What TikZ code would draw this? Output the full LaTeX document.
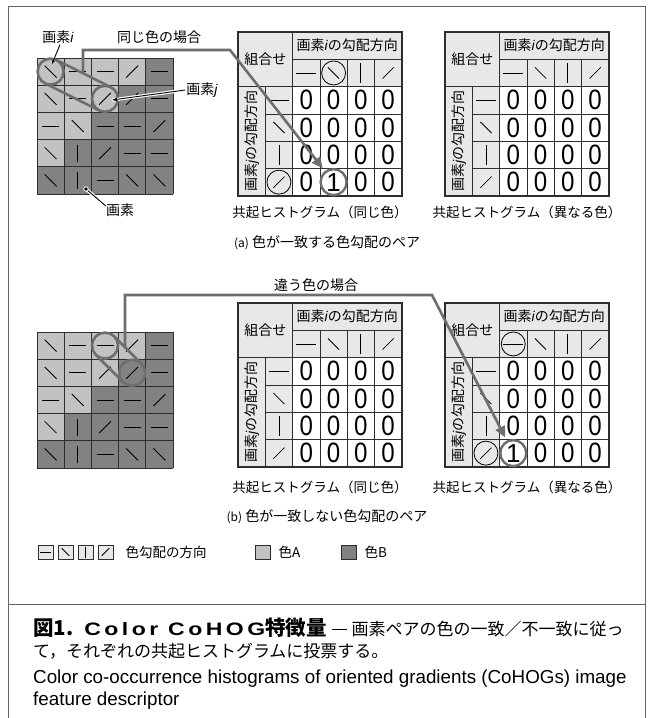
\documentclass[tikz,border=0pt]{standalone}
\usepackage{fontspec}
\setmainfont{Noto Sans CJK JP}
\newfontfamily\lat{Liberation Sans}
\newfontfamily\latw{Liberation Sans}[LetterSpace=15]
\usetikzlibrary{arrows.meta,calc}
\definecolor{colA}{HTML}{C2C2C2}
\definecolor{colB}{HTML}{828282}
\definecolor{hdr}{HTML}{E8E8E8}
\definecolor{ringc}{HTML}{6E6E6E}
\definecolor{gridc}{HTML}{2E2E2E}
\definecolor{framec}{HTML}{666666}
\newcommand\fs[1]{\fontsize{#1}{#1}\selectfont}
\newcommand\vi{{\lat\itshape i}}
\newcommand\vj{{\lat\itshape j}}
\newcommand\symH[3]{\draw[symline] ({#1-#3},{#2}) -- ({#1+#3},{#2});}
\newcommand\symV[3]{\draw[symline] ({#1},{#2-#3}) -- ({#1},{#2+#3});}
\newcommand\symD[3]{\draw[symline] ({#1-#3*0.7},{#2-#3*0.7}) -- ({#1+#3*0.7},{#2+#3*0.7});}
\newcommand\symS[3]{\draw[symline] ({#1-#3*0.7},{#2+#3*0.7}) -- ({#1+#3*0.7},{#2-#3*0.7});}
\tikzset{
 symline/.style={line width=0.85pt, black},
 tline/.style={line width=0.8pt, gridc},
 tframe/.style={line width=1.4pt, gridc},
 ringline/.style={ringc, line width=2.6pt},
 conn/.style={ringc, line width=2.6pt, -{Triangle[length=11pt,width=10pt]}, shorten >=3.5pt},
 zero/.style={font=\lat\fs{28}, inner sep=0pt},
 onec/.style={circle, draw=ringc, line width=2.4pt, fill=white, minimum size=26pt, inner sep=0pt, font=\lat\fs{26}},
 hcirc/.style={black, line width=0.8pt},
 lbl/.style={font=\fs{14}, inner sep=1pt},
 lead/.style={black, line width=0.9pt},
 halo/.style={white, line width=3.2pt},
 legbox/.style={draw=gridc, line width=0.8pt},
}
% 5x5 pixel grid
\newcommand\drawgrid[2]{%
 \foreach \row [count=\rr] in {{A/D,A/H,A/H,A/S,B/H},{A/D,A/H,A/S,B/S,B/H},{A/H,A/D,B/H,B/H,B/S},{A/D,B/V,B/S,B/H,B/H},{B/D,B/V,B/H,B/D,B/D}}{
  \foreach \cl/\sy [count=\cc] in \row {
   \fill[fill=col\cl] ({#1+(\cc-1)*27.2},{#2+(\rr-1)*27.2}) rectangle ++(27.2,27.2);
   \csname sym\sy\endcsname{#1+(\cc-0.5)*27.2}{#2+(\rr-0.5)*27.2}{8.5}
  }
 }
 \foreach \k in {0,...,5}{
  \draw[tline] ({#1+\k*27.2},{#2}) -- ++(0,136);
  \draw[tline] ({#1},{#2+\k*27.2}) -- ++(136,0);
 }
}
% histogram table
\newcommand\drawtable[3]{% X Y name
 \fill[hdr] (#1,#2) rectangle ++(163.8,163.8);
 \fill[white] ({#1+2*27.3},{#2+2*27.3}) rectangle ++(109.2,109.2);
 \draw[tline] ({#1+27.3},{#2+2*27.3}) -- ++(0,109.2);
 \foreach \k in {3,4,5}{
  \draw[tline] ({#1+\k*27.3},{#2+27.3}) -- ++(0,136.5);
  \draw[tline] ({#1+27.3},{#2+\k*27.3}) -- ++(136.5,0);
 }
 \draw[tline] ({#1+2*27.3},{#2+27.3}) -- ++(109.2,0);
 \draw[tframe] ({#1+2*27.3},{#2}) -- ++(0,163.8);
 \draw[tframe] ({#1},{#2+2*27.3}) -- ++(163.8,0);
 \draw[tframe] (#1,#2) rectangle ++(163.8,163.8);
 \node[lbl] (#3-k) at ({#1+27.3},{#2+27.3}) {組合せ};
 \node[lbl] (#3-i) at ({#1+4*27.3},{#2+0.5*27.3}) {画素\vi の勾配方向};
 \node[lbl, rotate=90] (#3-j) at ({#1+0.5*27.3},{#2+4*27.3}) {画素\vj の勾配方向};
 \symH{#1+2.5*27.3}{#2+1.5*27.3}{10}
 \symD{#1+3.5*27.3}{#2+1.5*27.3}{8}
 \symV{#1+4.5*27.3}{#2+1.5*27.3}{10}
 \symS{#1+5.5*27.3}{#2+1.5*27.3}{8}
 \symH{#1+1.5*27.3}{#2+2.5*27.3}{10}
 \symD{#1+1.5*27.3}{#2+3.5*27.3}{8}
 \symV{#1+1.5*27.3}{#2+4.5*27.3}{10}
 \symS{#1+1.5*27.3}{#2+5.5*27.3}{8}
 \foreach \a in {0,...,3}{\foreach \b in {0,...,3}{
  \node[zero] (#3-z\a\b) at ({#1+(2.5+\a)*27.3},{#2+(2.5+\b)*27.3}) {\scalebox{0.86}[1]{0}};
 }}
}
\begin{document}
\begin{tikzpicture}[x=1pt,y=-1pt]
\useasboundingbox (0,0) rectangle (653,718);
\fill[white] (0,0) rectangle (653,718);
% frame
\draw[framec, line width=1pt] (8,718) -- (8,6) -- (645,6) -- (645,718);
\draw[framec, line width=0.8pt] (8,604) -- (645,604);

% ===== (a) =====
\drawgrid{37}{58}
\drawtable{238}{32}{ta}
\drawtable{445}{32}{tb}
\draw[hcirc] (333.6,72.95) circle[radius=12pt];
\draw[hcirc] (278.95,182.15) circle[radius=12pt];
\node[onec] (oneA) at (333.6,182.15) {1};

\coordinate (a1) at (50.6,71.6);
\coordinate (a2) at (105,98.8);
\coordinate (au1) at ($(a1)!13pt!90:(a2)$);
\coordinate (au2) at ($(a2)!13pt!-90:(a1)$);
\coordinate (ad1) at ($(a1)!13pt!-90:(a2)$);
\coordinate (ad2) at ($(a2)!13pt!90:(a1)$);
\draw[ringline] (a1) circle[radius=13pt] (a2) circle[radius=13pt] (au1) -- (au2) (ad1) -- (ad2);
\coordinate (av1) at (83,0);
\coordinate (av2) at (83,200);
\coordinate (as) at (intersection of au1--au2 and av1--av2);
\coordinate (abend) at (230,50);
\draw[conn] (as) |- (abend) -- (oneA);

\node[lbl] (lbli) at (58,37) {画素\vi};
\coordinate (tipi) at (52,64);
\draw[lead, -{Stealth[length=4pt,width=3pt]}] ([xshift=2pt]lbli.south) -- (tipi);
\node[lbl] (lblj) at (202,90) {画素\vj};
\coordinate (tipj) at (112,100);
\draw[halo] (lblj.west) -- (tipj);
\draw[lead, -{Stealth[length=6pt,width=4pt]}] (lblj.west) -- (tipj);
\node[lbl] (lblp) at (120,210) {画素};
\coordinate (dotp) at (86,189);
\draw[halo] ([xshift=1pt,yshift=4pt]lblp.west) -- (dotp);
\draw[lead] ([xshift=1pt,yshift=4pt]lblp.west) -- (dotp);
\fill[black, draw=white, line width=0.8pt] (dotp) circle[radius=2.2pt];

\node[lbl] (samel) at (159,37) {同じ色の場合};
\node[font=\fs{13.5}] (capa1) at (320,212) {共起ヒストグラム（同じ色）};
\node[font=\fs{13.5}] (capa2) at (527,212) {共起ヒストグラム（異なる色）};
\node[font=\fs{14}] (capa) at (327,243) {{\fs{12}(a)} 色が一致する色勾配のペア};

% ===== (b) =====
\drawgrid{37}{332}
\drawtable{238}{303}{tc}
\drawtable{445}{303}{td}
\draw[hcirc] (513.25,343.95) circle[radius=12pt];
\draw[hcirc] (485.95,453.15) circle[radius=12pt];
\node[onec] (oneB) at (513.25,453.15) {1};

\coordinate (b1) at (105,345.6);
\coordinate (b2) at (132.2,372.8);
\coordinate (bu1) at ($(b1)!13pt!90:(b2)$);
\coordinate (bu2) at ($(b2)!13pt!-90:(b1)$);
\coordinate (bd1) at ($(b1)!13pt!-90:(b2)$);
\coordinate (bd2) at ($(b2)!13pt!90:(b1)$);
\draw[ringline] (b1) circle[radius=13pt] (b2) circle[radius=13pt] (bu1) -- (bu2) (bd1) -- (bd2);
\coordinate (bv1) at (125,250);
\coordinate (bv2) at (125,450);
\coordinate (bs) at (intersection of bu1--bu2 and bv1--bv2);
\coordinate (bbend) at (432,295);
\draw[conn] (bs) |- (bbend) -- (oneB);

\node[lbl] (diffl) at (316,285) {違う色の場合};
\node[font=\fs{13.5}] (capb1) at (320,487) {共起ヒストグラム（同じ色）};
\node[font=\fs{13.5}] (capb2) at (527,487) {共起ヒストグラム（異なる色）};
\node[font=\fs{14}] (capb) at (327,517) {{\fs{12}(b)} 色が一致しない色勾配のペア};

% ===== legend =====
\foreach \s [count=\n] in {H,D,V,S}{
 \draw[legbox, fill=hdr] ({18+\n*20},545) rectangle ++(15,14);
 \csname sym\s\endcsname{25.5+\n*20}{552}{5.5}
}
\node[font=\fs{13.5}, anchor=west] (legdir) at (122,552) {色勾配の方向};
\draw[legbox, fill=colA] (255,545) rectangle ++(15,14);
\node[font=\fs{13.5}, anchor=west] (legA) at (275,552) {色A};
\draw[legbox, fill=colB] (341,545) rectangle ++(15,14);
\node[font=\fs{13.5}, anchor=west] (legB) at (361,552) {色B};

% ===== caption =====
\node[font=\fs{17}, anchor=west, inner sep=0pt] (cap1) at (33,628) {{\fs{20.5}\bfseries 図1.}\hspace{11pt}{\fs{18}\latw\bfseries\scalebox{1.28}[1]{Color CoHOG}}{\fs{20.5}\bfseries 特徴量}\hspace{5pt}\raisebox{0.33em}{\rule{15pt}{0.8pt}}\hspace{5pt}画素ペアの色の一致／不一致に従っ};
\node[font=\fs{17}, anchor=west, inner sep=0pt] (cap2) at (33,651) {て，それぞれの共起ヒストグラムに投票する。};
\node[font=\lat\fs{18.8}, anchor=west, inner sep=0pt] (cap3) at (33,679) {Color co-occurrence histograms of oriented gradients (CoHOGs) image};
\node[font=\lat\fs{18.8}, anchor=west, inner sep=0pt] (cap4) at (33,701) {feature descriptor};
\end{tikzpicture}
\end{document}
